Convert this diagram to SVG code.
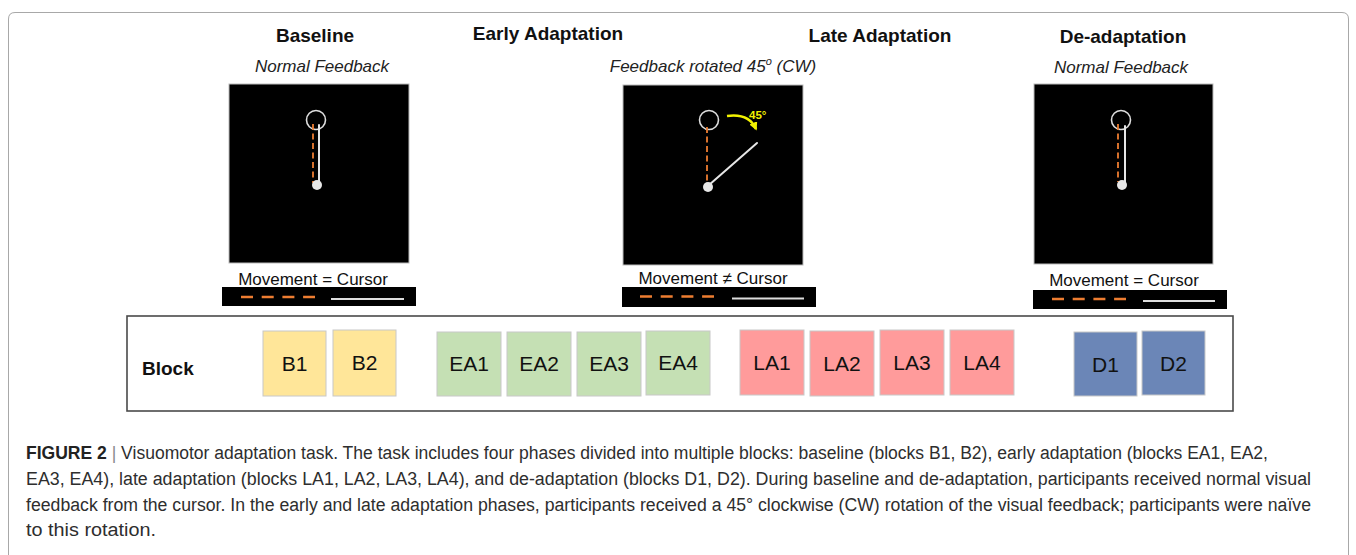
<svg xmlns="http://www.w3.org/2000/svg" width="1356" height="555" viewBox="0 0 1356 555">
  <style>
    text { font-family: "Liberation Sans", Arial, Helvetica, sans-serif; }
    .title { font-size: 19px; font-weight: bold; fill: #111; text-anchor: middle; }
    .sub { font-size: 17px; font-style: italic; fill: #222; text-anchor: middle; }
    .screen { fill: #000; stroke: #bbb; stroke-width: 1; }
    .target { fill: none; stroke: #ddd; stroke-width: 1.6; }
    .hand { fill: #e8e8e8; }
    .move { stroke: #ED7D31; stroke-width: 1.8; stroke-dasharray: 6 3.5; fill: none; }
    .cursor { stroke: #e6e6e6; stroke-width: 2; fill: none; stroke-linecap: round; }
    .legend-bar { fill: #000; }
    .legend-move { stroke: #ED7D31; stroke-width: 2.5; stroke-dasharray: 12 8.7; }
    .legend-cursor { stroke: #ddd; stroke-width: 2; }
    .legend-text { font-size: 17px; fill: #111; text-anchor: middle; }
    .tile { stroke: #c8c8c8; stroke-width: 1; }
    .tile-label { font-size: 21px; fill: #111; text-anchor: middle; }
    .b { fill: #FFE699; }
    .ea { fill: #C5E0B4; }
    .la { fill: #FF9B9B; }
    .d { fill: #6B86B7; }
    .caption { font-size: 18px; fill: #2e2e2e; }
  </style>
  <defs>
    <marker id="rotHead" viewBox="0 0 10 10" refX="8" refY="5" markerWidth="3.2" markerHeight="3.2" orient="auto" markerUnits="strokeWidth">
      <path d="M0,0 L10,5 L0,10 z" fill="#F2F200"/>
    </marker>
  </defs>

  <rect width="1356" height="555" fill="#fff"/>
  <!-- figure frame -->
  <path d="M8.5,555 V19 Q8.5,12.5 15,12.5 H1342 Q1348.5,12.5 1348.5,19 V555" fill="none" stroke="#a8a8a8" stroke-width="1"/>

  <!-- Baseline phase -->
  <g id="baseline">
    <text class="title" x="315" y="42">Baseline</text>
    <text class="sub" x="322" y="72">Normal Feedback</text>
    <rect class="screen" x="229" y="84" width="180" height="179"/>
    <circle class="target" cx="316" cy="120" r="9.5"/>
    <line class="move" x1="313" y1="124" x2="313" y2="183"/>
    <line class="cursor" x1="319" y1="125" x2="319" y2="184"/>
    <circle class="hand" cx="317" cy="185" r="5"/>
    <text class="legend-text" x="313" y="285">Movement = Cursor</text>
    <rect class="legend-bar" x="222" y="287" width="194" height="19"/>
    <line class="legend-move" x1="241" y1="297" x2="315" y2="297"/>
    <line class="legend-cursor" x1="331" y1="299" x2="404" y2="299"/>
  </g>

  <!-- Early adaptation title -->
  <g id="early-adaptation">
    <text class="title" x="548" y="40">Early Adaptation</text>
  </g>

  <!-- Rotated feedback screen -->
  <g id="rotated-feedback">
    <text class="sub" x="713" y="72">Feedback rotated 45<tspan font-size="11" dy="-7">o</tspan><tspan dy="7"> (CW)</tspan></text>
    <rect class="screen" x="623" y="85" width="180" height="180"/>
    <circle class="target" cx="709" cy="120" r="9.5"/>
    <line class="move" x1="707" y1="127" x2="707" y2="185"/>
    <line class="cursor" x1="709" y1="185" x2="757" y2="143"/>
    <circle class="hand" cx="708" cy="187" r="5"/>
    <path d="M727,116 Q749,113 756,129" fill="none" stroke="#F2F200" stroke-width="2.6" marker-end="url(#rotHead)"/>
    <text x="749" y="118.5" font-size="11.5" font-weight="bold" fill="#F2F200">45°</text>
    <text class="legend-text" x="713" y="284">Movement ≠ Cursor</text>
    <rect class="legend-bar" x="622" y="287" width="194" height="20"/>
    <line class="legend-move" x1="640" y1="296.5" x2="714" y2="296.5"/>
    <line class="legend-cursor" x1="732" y1="298.5" x2="804" y2="298.5"/>
  </g>

  <!-- Late adaptation title -->
  <g id="late-adaptation">
    <text class="title" x="880" y="42">Late Adaptation</text>
  </g>

  <!-- De-adaptation phase -->
  <g id="de-adaptation">
    <text class="title" x="1123" y="43">De-adaptation</text>
    <text class="sub" x="1121" y="73">Normal Feedback</text>
    <rect class="screen" x="1034" y="84" width="179" height="180"/>
    <circle class="target" cx="1121" cy="120" r="9.5"/>
    <line class="move" x1="1118" y1="124" x2="1118" y2="182"/>
    <line class="cursor" x1="1125" y1="126" x2="1125" y2="184"/>
    <circle class="hand" cx="1122" cy="185" r="5"/>
    <text class="legend-text" x="1124" y="286">Movement = Cursor</text>
    <rect class="legend-bar" x="1033" y="290" width="194" height="19"/>
    <line class="legend-move" x1="1052" y1="299" x2="1126" y2="299"/>
    <line class="legend-cursor" x1="1143" y1="301" x2="1215" y2="301"/>
  </g>

  <!-- Block sequence -->
  <g id="block-row">
    <rect x="127" y="316" width="1106" height="95" fill="#fff" stroke="#4a4a4a" stroke-width="1.6"/>
    <text x="142" y="375" font-size="19" font-weight="bold" fill="#111">Block</text>
  </g>
  <g id="B1"><rect class="tile b" x="263" y="331" width="63" height="65"/><text class="tile-label" x="294.5" y="371">B1</text></g>
  <g id="B2"><rect class="tile b" x="333" y="330" width="63" height="66"/><text class="tile-label" x="364.5" y="370">B2</text></g>
  <g id="EA1"><rect class="tile ea" x="437" y="332" width="64" height="64"/><text class="tile-label" x="469" y="371">EA1</text></g>
  <g id="EA2"><rect class="tile ea" x="507" y="332" width="64" height="64"/><text class="tile-label" x="539" y="371">EA2</text></g>
  <g id="EA3"><rect class="tile ea" x="577" y="332" width="64" height="64"/><text class="tile-label" x="609" y="371">EA3</text></g>
  <g id="EA4"><rect class="tile ea" x="646" y="331" width="64" height="64"/><text class="tile-label" x="678" y="370">EA4</text></g>
  <g id="LA1"><rect class="tile la" x="740" y="330" width="64" height="65"/><text class="tile-label" x="772" y="370">LA1</text></g>
  <g id="LA2"><rect class="tile la" x="810" y="331" width="64" height="65"/><text class="tile-label" x="842" y="371">LA2</text></g>
  <g id="LA3"><rect class="tile la" x="880" y="330" width="64" height="65"/><text class="tile-label" x="912" y="370">LA3</text></g>
  <g id="LA4"><rect class="tile la" x="950" y="330" width="64" height="65"/><text class="tile-label" x="982" y="370">LA4</text></g>
  <g id="D1"><rect class="tile d" x="1074" y="332" width="63" height="64"/><text class="tile-label" x="1105.5" y="372">D1</text></g>
  <g id="D2"><rect class="tile d" x="1142" y="331" width="63" height="64"/><text class="tile-label" x="1173.5" y="371">D2</text></g>

  <!-- Caption -->
  <g id="caption" class="caption">
    <text x="26" y="459" textLength="1242" lengthAdjust="spacingAndGlyphs"><tspan font-weight="bold" fill="#222">FIGURE 2</tspan><tspan fill="#8a8a8a"> | </tspan>Visuomotor adaptation task. The task includes four phases divided into multiple blocks: baseline (blocks B1, B2), early adaptation (blocks EA1, EA2,</text>
    <text x="26" y="485" textLength="1285" lengthAdjust="spacingAndGlyphs">EA3, EA4), late adaptation (blocks LA1, LA2, LA3, LA4), and de-adaptation (blocks D1, D2). During baseline and de-adaptation, participants received normal visual</text>
    <text x="26" y="511" textLength="1285" lengthAdjust="spacingAndGlyphs">feedback from the cursor. In the early and late adaptation phases, participants received a 45° clockwise (CW) rotation of the visual feedback; participants were naïve</text>
    <text x="26" y="536" textLength="130" lengthAdjust="spacingAndGlyphs">to this rotation.</text>
  </g>
</svg>
